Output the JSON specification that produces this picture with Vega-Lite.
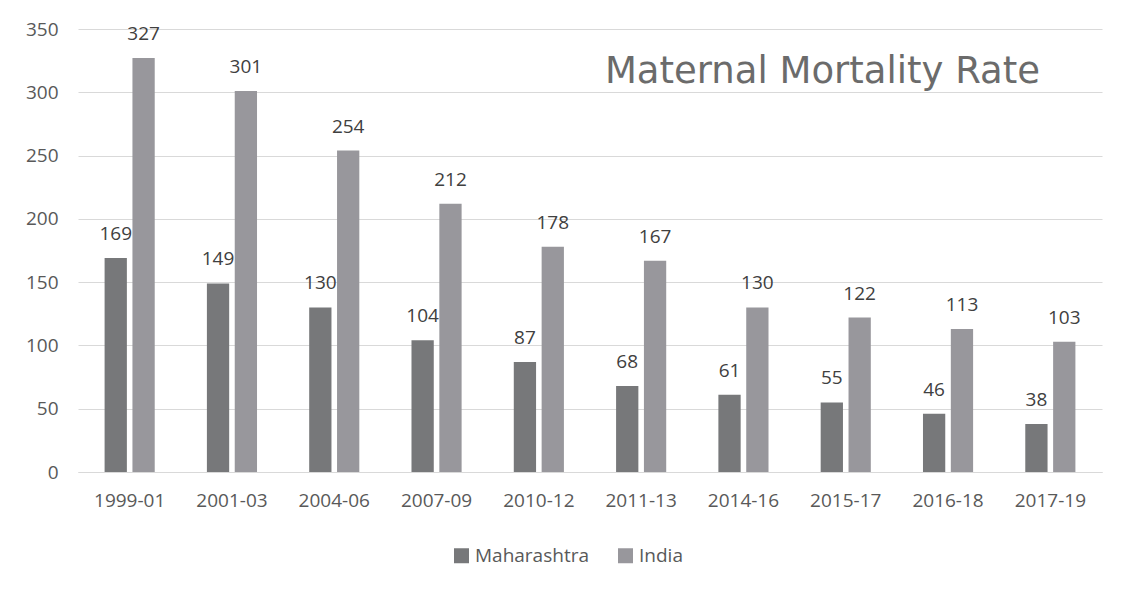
{
  "$schema": "https://vega.github.io/schema/vega-lite/v6.json",
  "width": 1024,
  "height": 443,
  "autosize": {"type": "none"},
  "padding": {"left": 78, "top": 29, "right": 34, "bottom": 125},
  "background": "white",
  "title": {
    "text": "Maternal Mortality Rate",
    "anchor": "end",
    "frame": "group",
    "orient": "top",
    "baseline": "alphabetic",
    "offset": 0,
    "dy": 100,
    "dx": -62,
    "font": "DejaVu Sans",
    "fontSize": 37,
    "fontWeight": "normal",
    "color": "#6b6b6b"
  },
  "data": {
    "values": [
      {"period": "1999-01", "region": "Maharashtra", "mmr": 169},
      {"period": "1999-01", "region": "India", "mmr": 327},
      {"period": "2001-03", "region": "Maharashtra", "mmr": 149},
      {"period": "2001-03", "region": "India", "mmr": 301},
      {"period": "2004-06", "region": "Maharashtra", "mmr": 130},
      {"period": "2004-06", "region": "India", "mmr": 254},
      {"period": "2007-09", "region": "Maharashtra", "mmr": 104},
      {"period": "2007-09", "region": "India", "mmr": 212},
      {"period": "2010-12", "region": "Maharashtra", "mmr": 87},
      {"period": "2010-12", "region": "India", "mmr": 178},
      {"period": "2011-13", "region": "Maharashtra", "mmr": 68},
      {"period": "2011-13", "region": "India", "mmr": 167},
      {"period": "2014-16", "region": "Maharashtra", "mmr": 61},
      {"period": "2014-16", "region": "India", "mmr": 130},
      {"period": "2015-17", "region": "Maharashtra", "mmr": 55},
      {"period": "2015-17", "region": "India", "mmr": 122},
      {"period": "2016-18", "region": "Maharashtra", "mmr": 46},
      {"period": "2016-18", "region": "India", "mmr": 113},
      {"period": "2017-19", "region": "Maharashtra", "mmr": 38},
      {"period": "2017-19", "region": "India", "mmr": 103}
    ]
  },
  "encoding": {
    "x": {
      "field": "period",
      "type": "nominal",
      "sort": null,
      "scale": {"paddingInner": 0.51, "paddingOuter": 0.26},
      "axis": {
        "title": null,
        "labelAngle": 0,
        "ticks": false,
        "domain": true,
        "domainColor": "#d9d9d9",
        "labelPadding": 19,
        "labelFont": "Open Sans",
        "labelFontSize": 19,
        "labelColor": "#595959",
        "grid": false
      }
    },
    "xOffset": {
      "field": "region",
      "type": "nominal",
      "sort": ["Maharashtra", "India"],
      "scale": {"paddingInner": 0.2}
    },
    "y": {
      "field": "mmr",
      "type": "quantitative",
      "scale": {"domain": [0, 350], "nice": false},
      "axis": {
        "title": null,
        "values": [0, 50, 100, 150, 200, 250, 300, 350],
        "ticks": false,
        "domain": false,
        "gridColor": "#d9d9d9",
        "gridWidth": 1,
        "labelPadding": 20,
        "labelFont": "Open Sans",
        "labelFontSize": 19,
        "labelColor": "#595959"
      }
    }
  },
  "layer": [
    {
      "mark": {"type": "bar"},
      "encoding": {
        "color": {
          "field": "region",
          "type": "nominal",
          "sort": ["Maharashtra", "India"],
          "scale": {"domain": ["Maharashtra", "India"], "range": ["#77787a", "#98979c"]},
          "legend": {
            "title": null,
            "orient": "none",
            "legendX": 374,
            "legendY": 517,
            "padding": 0,
            "direction": "horizontal",
            "symbolType": "square",
            "symbolSize": 225,
            "symbolStrokeWidth": 0,
            "labelFont": "Open Sans",
            "labelFontSize": 19,
            "labelColor": "#595959",
            "labelOffset": 4,
            "columnPadding": 27
          }
        }
      }
    },
    {
      "mark": {
        "type": "text",
        "baseline": "bottom",
        "dy": -14,
        "font": "Open Sans",
        "fontSize": 19,
        "color": "#404040"
      },
      "encoding": {
        "text": {"field": "mmr", "type": "quantitative"}
      }
    }
  ],
  "config": {
    "view": {"stroke": null}
  }
}
